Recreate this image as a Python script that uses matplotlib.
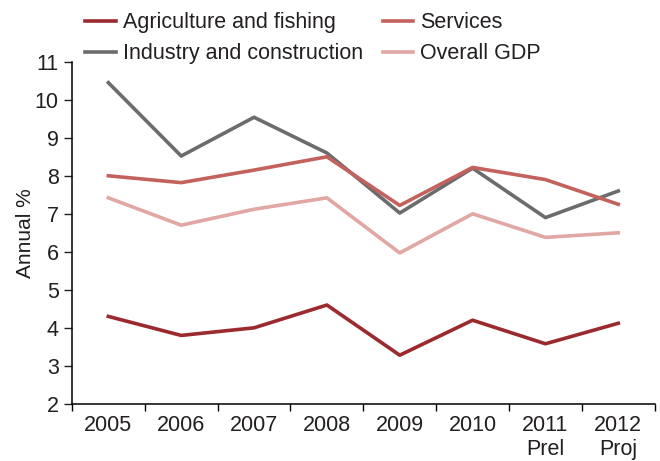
import matplotlib.pyplot as plt
import numpy as np

years = ['2005', '2006', '2007', '2008', '2009', '2010', '2011\nPrel', '2012\nProj']
agriculture = [4.3, 3.8, 4.0, 4.6, 3.28, 4.2, 3.58, 4.12]
industry = [10.45, 8.52, 9.54, 8.6, 7.02, 8.2, 6.9, 7.6]
services = [8.0, 7.82, 8.15, 8.5, 7.22, 8.22, 7.9, 7.25]
overall_gdp = [7.42, 6.7, 7.12, 7.42, 5.97, 7.0, 6.38, 6.5]

plt.rcParams['font.family'] = ['Liberation Sans', 'DejaVu Sans']
txt = '#231f20'

fig = plt.figure(figsize=(6.6, 4.61), dpi=100)
ax = fig.add_axes([0.109, 0.124, 0.883, 0.742])

x = np.arange(len(years))
lw = 2.6
ax.plot(x, agriculture, color='#9b2a2e', lw=lw, label='Agriculture and fishing')
ax.plot(x, industry, color='#6b6c6e', lw=lw, label='Industry and construction')
ax.plot(x, services, color='#c3625d', lw=lw, label='Services')
ax.plot(x, overall_gdp, color='#e0a7a3', lw=lw, label='Overall GDP')

ax.set_xlim(-0.5, len(years) - 0.5)
ax.set_ylim(2, 11)
ax.set_yticks(range(2, 12))
ax.set_xticks(x)
ax.set_xticklabels(years)
# category boundaries get the tick marks, labels sit between them
ax.set_xticks(np.arange(-0.5, len(years)), minor=True)
ax.tick_params(axis='x', which='major', length=0, pad=8, labelsize=15.5, colors=txt)
ax.tick_params(axis='x', which='minor', length=5, direction='out', width=1)
ax.tick_params(axis='y', length=6, direction='out', width=1, labelsize=15.5, colors=txt)
for lab in ax.get_xticklabels():
    lab.set_linespacing(1.2)

for side in ['top', 'right']:
    ax.spines[side].set_visible(False)
for side in ['left', 'bottom']:
    ax.spines[side].set_linewidth(1.1)

ax.set_ylabel('Annual %', fontsize=15, color=txt, labelpad=0)

h, l = ax.get_legend_handles_labels()
fig.legend(h, l, ncol=2, loc='upper left', bbox_to_anchor=(0.1, 1.015),
           frameon=False, fontsize=15.5, handlelength=1.4, handletextpad=0.35,
           columnspacing=0.9, labelspacing=0.45, labelcolor=txt)

fig.savefig('out.png', dpi=100)
